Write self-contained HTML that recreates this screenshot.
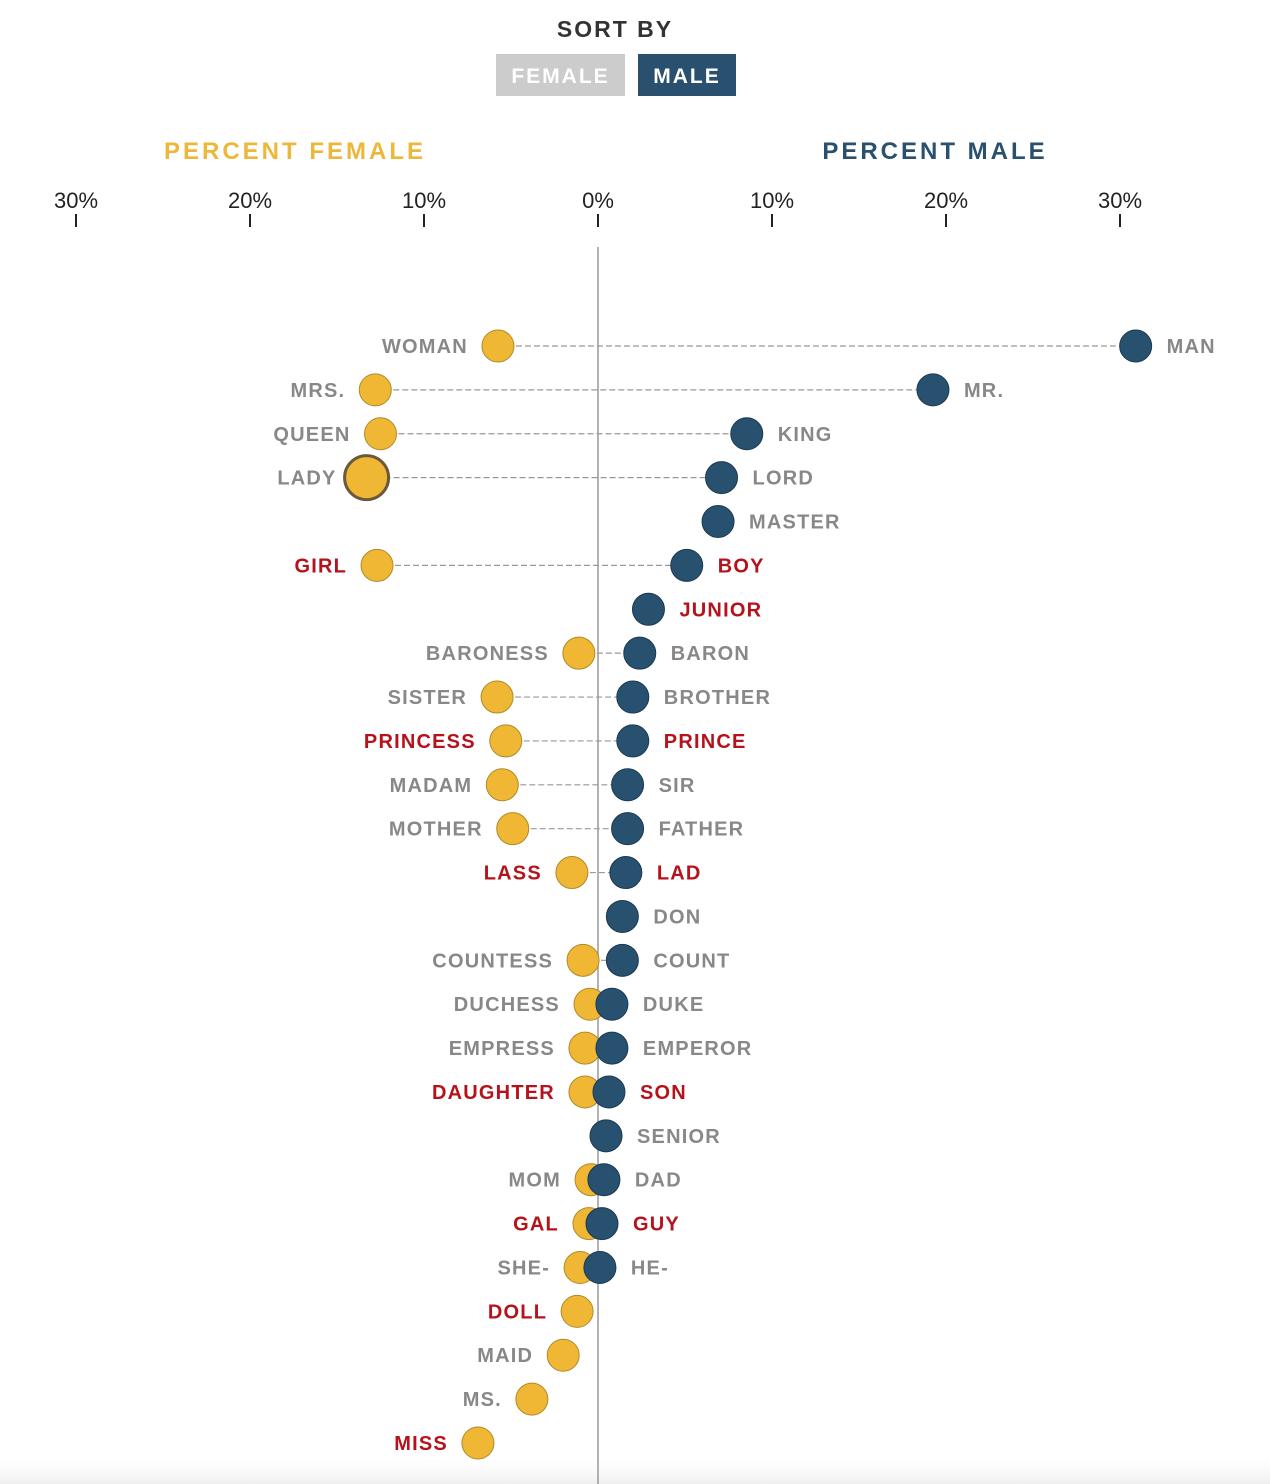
<!DOCTYPE html>
<html><head><meta charset="utf-8"><style>
html,body{margin:0;padding:0;background:#fff;width:1270px;height:1484px;overflow:hidden;font-family:"Liberation Sans",sans-serif}
</style></head><body>
<svg id="chart" width="1270" height="1484" xmlns="http://www.w3.org/2000/svg" font-family="Liberation Sans, sans-serif">
<defs><linearGradient id="fade" x1="0" y1="0" x2="0" y2="1"><stop offset="0" stop-color="#fff" stop-opacity="0"/><stop offset="1" stop-color="#eee"/></linearGradient></defs>
<rect x="0" y="1455" width="1270" height="29" fill="url(#fade)"/>
<text x="615" y="37" text-anchor="middle" font-size="23" font-weight="bold" letter-spacing="2" fill="#333">SORT BY</text>
<g><rect x="496" y="54" width="129" height="42" fill="#cccccc"/><text x="560.5" y="83" text-anchor="middle" font-size="21" font-weight="bold" letter-spacing="2" fill="#fff">FEMALE</text></g>
<g><rect x="638" y="54" width="98" height="42" fill="#29516f"/><text x="687" y="83" text-anchor="middle" font-size="21" font-weight="bold" letter-spacing="2" fill="#fff">MALE</text></g>
<text x="295" y="159" text-anchor="middle" font-size="24" font-weight="bold" letter-spacing="3" fill="#edb73a">PERCENT FEMALE</text>
<text x="935" y="159" text-anchor="middle" font-size="24" font-weight="bold" letter-spacing="3" fill="#29516f">PERCENT MALE</text>
<g id="axis"></g>
<line x1="598" y1="247" x2="598" y2="1484" stroke="#999" stroke-width="1.5"/>
<g id="marks"></g>
</svg>
<script>
const femaleLabels=["WOMAN","MRS.","QUEEN","LADY","","GIRL","","BARONESS","SISTER","PRINCESS","MADAM","MOTHER","LASS","","COUNTESS","DUCHESS","EMPRESS","DAUGHTER","","MOM","GAL","SHE-","DOLL","MAID","MS.","MISS"];
const maleLabels=["MAN","MR.","KING","LORD","MASTER","BOY","JUNIOR","BARON","BROTHER","PRINCE","SIR","FATHER","LAD","DON","COUNT","DUKE","EMPEROR","SON","SENIOR","DAD","GUY","HE-","","","",""];
const femaleValues=[5.75,12.8,12.5,13.3,null,12.7,null,1.1,5.8,5.3,5.5,4.9,1.5,null,0.86,0.46,0.75,0.75,null,0.4,0.52,1.03,1.2,2.0,3.8,6.9];
const maleValues=[30.9,19.25,8.55,7.1,6.9,5.1,2.9,2.4,2.0,2.0,1.7,1.7,1.6,1.4,1.4,0.8,0.8,0.63,0.46,0.34,0.23,0.11,null,null,null,null];
const redLabels=["GIRL","BOY","JUNIOR","PRINCESS","PRINCE","LASS","LAD","DAUGHTER","SON","GAL","GUY","DOLL","MISS"];
const tickValues=[-30,-20,-10,0,10,20,30];
const tickLabels=["30%","20%","10%","0%","10%","20%","30%"];
const highlight="LADY";
const NS="http://www.w3.org/2000/svg";
const X=v=>598+v*17.4;
const Y=i=>346+i*43.88;
function mk(t,a,p){const e=document.createElementNS(NS,t);for(const k in a)e.setAttribute(k,a[k]);p.appendChild(e);return e;}
const ax=document.getElementById('axis');
tickValues.forEach((v,i)=>{
  const t=mk('text',{x:X(v),y:208,'text-anchor':'middle','font-size':22,fill:'#222'},ax);t.textContent=tickLabels[i];
  
  
  const l=mk('line',{x1:X(v),x2:X(v),y1:214,y2:227,stroke:'#222','stroke-width':2},ax);
  
  
});
const g=document.getElementById('marks');
femaleLabels.forEach((fl,i)=>{
  const y=Y(i),fv=femaleValues[i],mv=maleValues[i];
  if(fv!=null&&mv!=null){
    const c=mk('line',{x1:X(-fv),x2:X(mv),y1:y,y2:y,stroke:'#999','stroke-width':1.2,'stroke-dasharray':'6,3'},g);
    
    
  }
  if(fv!=null){
    const big=fl===highlight;
    const c=mk('circle',{cx:X(-fv),cy:y,r:big?22:16,fill:'#efb734',stroke:big?'#6b5a3a':'#b08a2a','stroke-width':big?3:1},g);
    
    
    const t=mk('text',{x:X(-fv)-30,y:y+7,'text-anchor':'end','font-size':20,'font-weight':'bold','letter-spacing':1.2,fill:redLabels.includes(fl)?'#b5121b':'#888'},g);t.textContent=fl;
    
    
  }
  if(mv!=null){
    const c=mk('circle',{cx:X(mv),cy:y,r:16,fill:'#28506f',stroke:'#1c3a52','stroke-width':1},g);
    
    
    const ml=maleLabels[i];
    const t=mk('text',{x:X(mv)+31,y:y+7,'font-size':20,'font-weight':'bold','letter-spacing':1.2,fill:redLabels.includes(ml)?'#b5121b':'#888'},g);t.textContent=ml;
    
    
  }
});
</script>
</body></html>
